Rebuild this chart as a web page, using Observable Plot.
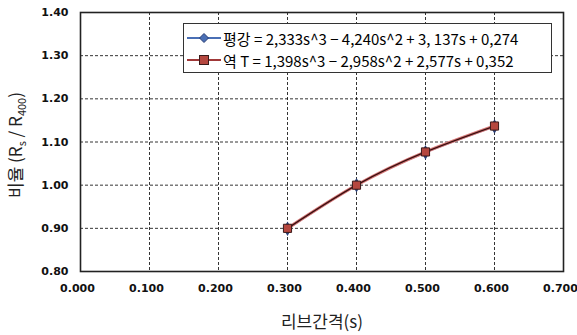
<!DOCTYPE html>
<html><head><meta charset="utf-8">
<script src="https://cdn.jsdelivr.net/npm/d3@7"></script>
<script src="https://cdn.jsdelivr.net/npm/@observablehq/plot@0.6"></script>
<style>
html,body{margin:0;padding:0;background:#fff;}
#wrap{position:relative;width:577px;height:335px;}
#legend{position:absolute;left:183px;top:23px;width:369px;height:50px;border:1px solid #333;background:#fff;box-sizing:border-box;font-family:"Noto Sans CJK KR","DejaVu Sans",sans-serif;font-size:15px;color:#000;}
.row{position:absolute;left:3px;height:20px;display:flex;align-items:center;white-space:nowrap;}
.row svg{margin-right:2px;}
</style>
</head><body>
<div id="wrap"></div>
<script>
const spacing = [0.3, 0.4, 0.5, 0.6];
const avgValues = [0.899, 1.000, 1.076, 1.136];
const revValues = [0.900, 1.000, 1.077, 1.137];
const seriesNames = ["평강 = 2,333s^3 − 4,240s^2 + 3, 137s + 0,274", "역 T = 1,398s^3 − 2,958s^2 + 2,577s + 0,352"];
const xTicks = [0, 0.1, 0.2, 0.3, 0.4, 0.5, 0.6, 0.7];
const yTicks = [0.8, 0.9, 1.0, 1.1, 1.2, 1.3, 1.4];

const avg = spacing.map((s, i) => ({s, v: avgValues[i]}));
const rev = spacing.map((s, i) => ({s, v: revValues[i]}));

const tickFont = "DejaVu Sans";
const plot = Plot.plot({
  width: 577, height: 335,
  marginLeft: 80, marginRight: 14, marginTop: 12, marginBottom: 64,
  x: {domain: [0, 0.7]},
  y: {domain: [0.8, 1.4]},
  style: {background: "#fff"},
  marks: [
    Plot.gridX(xTicks.slice(1, -1), {stroke: "#000", strokeOpacity: 1, strokeWidth: 0.8, strokeDasharray: "3,2"}),
    Plot.gridY(yTicks.slice(1, -1), {stroke: "#000", strokeOpacity: 1, strokeWidth: 0.8, strokeDasharray: "3,2"}),
    Plot.frame({stroke: "#222", strokeWidth: 1.6}),
    Plot.axisX({ticks: xTicks, tickSize: 0, tickPadding: 13, dx: -3, tickFormat: d3.format(".3f"), fontSize: 11, fontWeight: "bold", fontFamily: tickFont, fill: "#111", label: null}),
    Plot.axisY({ticks: yTicks, tickSize: 0, tickPadding: 12, tickFormat: d3.format(".2f"), fontSize: 11, fontWeight: "bold", fontFamily: tickFont, fill: "#111", label: null}),
    Plot.line(avg, {x: "s", y: "v", stroke: "#4a6fb5", strokeWidth: 1.8, curve: "natural"}),
    Plot.dot(avg, {x: "s", y: "v", symbol: "diamond", r: 3.5, fill: "#4a6fb5", stroke: "#2a3f75"}),
    Plot.line(rev, {x: "s", y: "v", stroke: "#d87a7a", strokeWidth: 3.2, curve: "natural"}),
    Plot.line(rev, {x: "s", y: "v", stroke: "#3a1010", strokeWidth: 1.3, curve: "natural"}),
    Plot.dot(rev, {x: "s", y: "v", symbol: "square", r: 4.6, fill: "#b5473f", stroke: "#3a1a1a", strokeWidth: 1})
  ]
});
const wrap = document.getElementById("wrap");
wrap.appendChild(plot);

const svg = d3.select(plot);
svg.append("text").attr("x", 322).attr("y", 328).attr("text-anchor", "middle")
  .attr("font-family", "Noto Sans CJK KR, DejaVu Sans, sans-serif").attr("font-size", 17).attr("fill", "#222")
  .text("리브간격(s)");
const yl = svg.append("text").attr("transform", "translate(22,145) rotate(-90)").attr("text-anchor", "middle")
  .attr("font-family", "Noto Sans CJK KR, DejaVu Sans, sans-serif").attr("font-size", 17).attr("fill", "#222");
yl.append("tspan").text("비율 (R");
yl.append("tspan").attr("font-size", 11).attr("dy", 4).text("s");
yl.append("tspan").attr("dy", -4).text(" / R");
yl.append("tspan").attr("font-size", 11).attr("dy", 4).text("400");
yl.append("tspan").attr("dy", -4).text(")");

const legend = document.createElement("div");
legend.id = "legend";
const sym = [
  '<svg width="34" height="12"><line x1="0" y1="6" x2="34" y2="6" stroke="#4a6fb5" stroke-width="1.8"/><path d="M17 1.5 L21.5 6 L17 10.5 L12.5 6Z" fill="#4a6fb5" stroke="#2a3f75"/></svg>',
  '<svg width="34" height="12"><line x1="0" y1="6" x2="34" y2="6" stroke="#a03838" stroke-width="1.8"/><rect x="12.5" y="1.5" width="9" height="9" fill="#b5473f" stroke="#3a1a1a"/></svg>'
];
seriesNames.forEach((name, i) => {
  const r = document.createElement("div");
  r.className = "row";
  r.style.top = (i === 0 ? 4 : 26) + "px";
  r.innerHTML = sym[i] + "<span>" + name + "</span>";
  legend.appendChild(r);
});
wrap.appendChild(legend);
</script>
</body></html>
